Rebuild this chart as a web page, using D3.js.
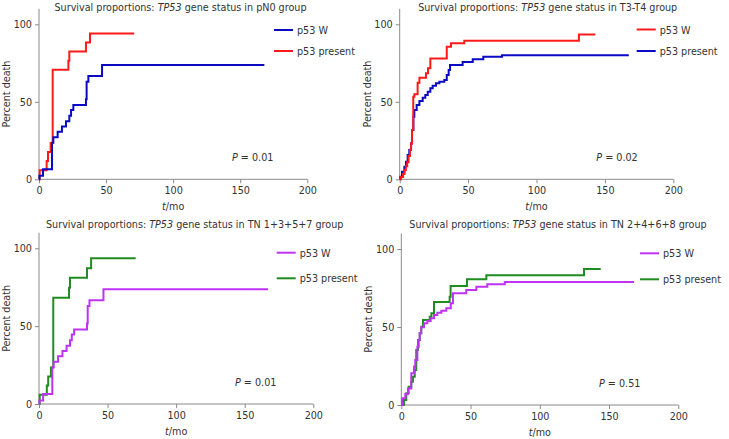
<!DOCTYPE html>
<html>
<head>
<meta charset="utf-8">
<script src="https://cdn.jsdelivr.net/npm/d3@7"></script>
<style>
  html, body { margin: 0; padding: 0; background: #fff; }
  svg { display: block; }
  text { font-family: "DejaVu Sans Condensed", "DejaVu Sans", sans-serif; fill: #333; }
</style>
</head>
<body>
<svg id="chart" width="729" height="439"></svg>
<script>
// ---------------- DATA ----------------
const xTicks = [0, 50, 100, 150, 200];
const yTicks = [0, 50, 100];

const titles = [
  ["Survival proportions: ", "TP53", " gene status in pN0 group"],
  ["Survival proportions: ", "TP53", " gene status in T3-T4 group"],
  ["Survival proportions: ", "TP53", " gene status in TN 1+3+5+7 group"],
  ["Survival proportions: ", "TP53", " gene status in TN 2+4+6+8 group"]
];
const seriesNames = ["p53 W", "p53 present"];
const pValues = ["0.01", "0.02", "0.01", "0.51"];

// [time (mo), percent death]
const pN0_W = [[0,0],[0.3,2.3],[3,6.5],[9.7,23.6],[10.7,27.1],[13.9,30.7],[17.1,34],[20.1,37.4],[22.6,41],[23.9,44.7],[25.6,47.9],[35,51.7],[35.5,63],[36.8,66.6],[47,73.7],[168,73.7]];
const pN0_present = [[0,0],[0.5,5.9],[5.7,11.8],[6.7,17.6],[8.7,23.5],[10.2,70.6],[21.9,76.5],[22.6,82.4],[35,88.2],[38,94.1],[71,94.1]];

const T34_W = [[0,0],[1,1.5],[2.5,3.5],[3.5,6],[4.5,8.5],[5.5,11],[6.5,15],[7.5,19],[8.3,23],[9,31.8],[9.9,53.3],[10.7,54.8],[13.1,62.3],[14.4,65.5],[19.2,68.4],[20.7,71.6],[22.4,78],[34.4,85.5],[37.5,87.7],[47.2,89.4],[131,93.5],[143,93.5]];
const T34_present = [[0,0],[0.5,1.7],[1.7,4.9],[3.4,8.1],[4.6,11.4],[5.8,15.7],[7,18.9],[8.3,23.2],[9,31.8],[10,40.4],[10.7,44.7],[12.4,47.9],[14.4,50.5],[16.8,52.6],[18.7,54.4],[20.5,56.5],[22.4,58.7],[24.1,60.4],[26.5,61.9],[29,63],[32.6,64.1],[34.4,67.3],[35.8,70.5],[36.8,73.7],[46,75.7],[53.4,77.4],[61.1,79],[74.8,80.1],[167.5,80.1]];

const TN1357_W = [[0,0],[0.3,2.3],[3,6.5],[9.7,23.6],[10.7,27.1],[13.9,30.7],[17.1,34],[20.1,37.4],[22.6,41],[23.9,44.7],[25.6,47.9],[35,51.7],[35.5,63],[36.8,66.6],[47,73.7],[167,73.7]];
const TN1357_present = [[0,0],[0.5,5.9],[5.7,11.8],[6.7,17.6],[8.7,23.5],[10.4,68.3],[21.9,74.7],[22.6,81.1],[35,87.1],[38,93.6],[70.5,93.6]];

const TN2468_W = [[0,0],[0.5,4.3],[2.9,7],[4.8,10.6],[7.2,20.3],[9.2,24.6],[10.1,28.8],[11.6,37.4],[12.6,41.7],[13.3,46],[14.4,49.8],[16.4,52.4],[18.8,53.8],[21.2,55.6],[23.6,57.7],[26,59.2],[28.9,60.4],[32.5,62],[35.7,65.2],[37.3,71.6],[46.9,73.7],[54.2,75.8],[62.1,77.4],[74.7,78.8],[168,78.8]];
const TN2468_present = [[0,0],[1.9,3.2],[3.6,7.5],[5.3,11.7],[7.2,14.9],[8.4,18.1],[9.7,22.4],[10.8,35.3],[12.1,41.7],[13.3,46],[14.4,50.2],[15.7,54.5],[20.5,56.6],[21.7,58.8],[23.6,66],[34.9,69.4],[35.6,76.3],[47.4,80.6],[61.4,83.1],[131.9,87.2],[144,87.2]];

// ---------------- LAYOUT ----------------
const panels = [
  { x0: 39, x1: 307.3, y0: 179.3, y1: 8.8, titleX: 180.5, titleY: 10.5,
    data: [pN0_W, pN0_present], colors: ["#0a0ac4", "#ff1a1a"],
    legX: 274, legY: [30, 51], pX: 232, pY: 161 },
  { x0: 399.7, x1: 673.3, y0: 179.3, y1: 8.8, titleX: 547.7, titleY: 10.5,
    data: [T34_W, T34_present], colors: ["#ff1a1a", "#0a0ac4"],
    legX: 636.7, legY: [29.5, 51], pX: 596.3, pY: 161 },
  { x0: 39, x1: 313.3, y0: 404, y1: 232.7, titleX: 194.7, titleY: 228,
    data: [TN1357_W, TN1357_present], colors: ["#c032f5", "#1e8c1e"],
    legX: 276.7, legY: [252.7, 278.3], pX: 235, pY: 386 },
  { x0: 401.3, x1: 678.3, y0: 405, y1: 233.4, titleX: 558, titleY: 228,
    data: [TN2468_W, TN2468_present], colors: ["#c032f5", "#1e8c1e"],
    legX: 640, legY: [253.3, 279.3], pX: 599, pY: 387 }
];

const FS = 10.7;
const svg = d3.select("#chart");
const axisColor = "#8a8a8a";

panels.forEach((p, i) => {
  const x = d3.scaleLinear().domain([0, 200]).range([p.x0, p.x1]);
  const y = d3.scaleLinear().domain([0, 110]).range([p.y0, p.y1]);
  const g = svg.append("g");

  // axes
  const xa = g.append("g").attr("transform", `translate(0,${p.y0})`)
    .call(d3.axisBottom(x).tickValues(xTicks).tickSize(4).tickPadding(3));
  const ya = g.append("g").attr("transform", `translate(${p.x0},0)`)
    .call(d3.axisLeft(y).tickValues(yTicks).tickSize(4).tickPadding(3));
  [xa, ya].forEach(a => {
    a.selectAll("path, line").attr("stroke", axisColor).attr("stroke-width", 1);
    a.selectAll("text").attr("font-size", FS).attr("fill", "#333")
      .style("font-family", '"DejaVu Sans Condensed", "DejaVu Sans", sans-serif');
  });
  xa.select(".domain").attr("d", `M${p.x0},0H${p.x1}`);
  ya.select(".domain").attr("d", `M0,${p.y0}V${p.y1}`);

  // title
  const t = g.append("text").attr("x", p.titleX).attr("y", p.titleY)
    .attr("text-anchor", "middle").attr("font-size", FS);
  titles[i].forEach((s, k) => {
    t.append("tspan").text(s).attr("font-style", k === 1 ? "italic" : null);
  });

  // axis labels
  const xl = g.append("text").attr("x", (p.x0 + p.x1) / 2).attr("y", p.y0 + 30.5)
    .attr("text-anchor", "middle").attr("font-size", FS);
  xl.append("tspan").text("t").attr("font-style", "italic");
  xl.append("tspan").text("/mo");
  g.append("text")
    .attr("transform", `translate(${p.x0 - 29},${(p.y0 + p.y1) / 2}) rotate(-90)`)
    .attr("text-anchor", "middle").attr("font-size", FS).text("Percent death");

  // curves
  const line = d3.line().x(d => x(d[0])).y(d => y(d[1])).curve(d3.curveStepAfter);
  [1, 0].forEach(k => {
    g.append("path").datum(p.data[k]).attr("d", line)
      .attr("fill", "none").attr("stroke", p.colors[k]).attr("stroke-width", 2);
  });

  // legend
  seriesNames.forEach((name, k) => {
    g.append("line").attr("x1", p.legX).attr("x2", p.legX + 19)
      .attr("y1", p.legY[k]).attr("y2", p.legY[k])
      .attr("stroke", p.colors[k]).attr("stroke-width", 2);
    g.append("text").attr("x", p.legX + 23).attr("y", p.legY[k] + 4)
      .attr("font-size", FS).text(name);
  });

  // p value
  const pt = g.append("text").attr("x", p.pX).attr("y", p.pY).attr("font-size", FS);
  pt.append("tspan").text("P").attr("font-style", "italic");
  pt.append("tspan").text(" = " + pValues[i]);
});
</script>
</body>
</html>
